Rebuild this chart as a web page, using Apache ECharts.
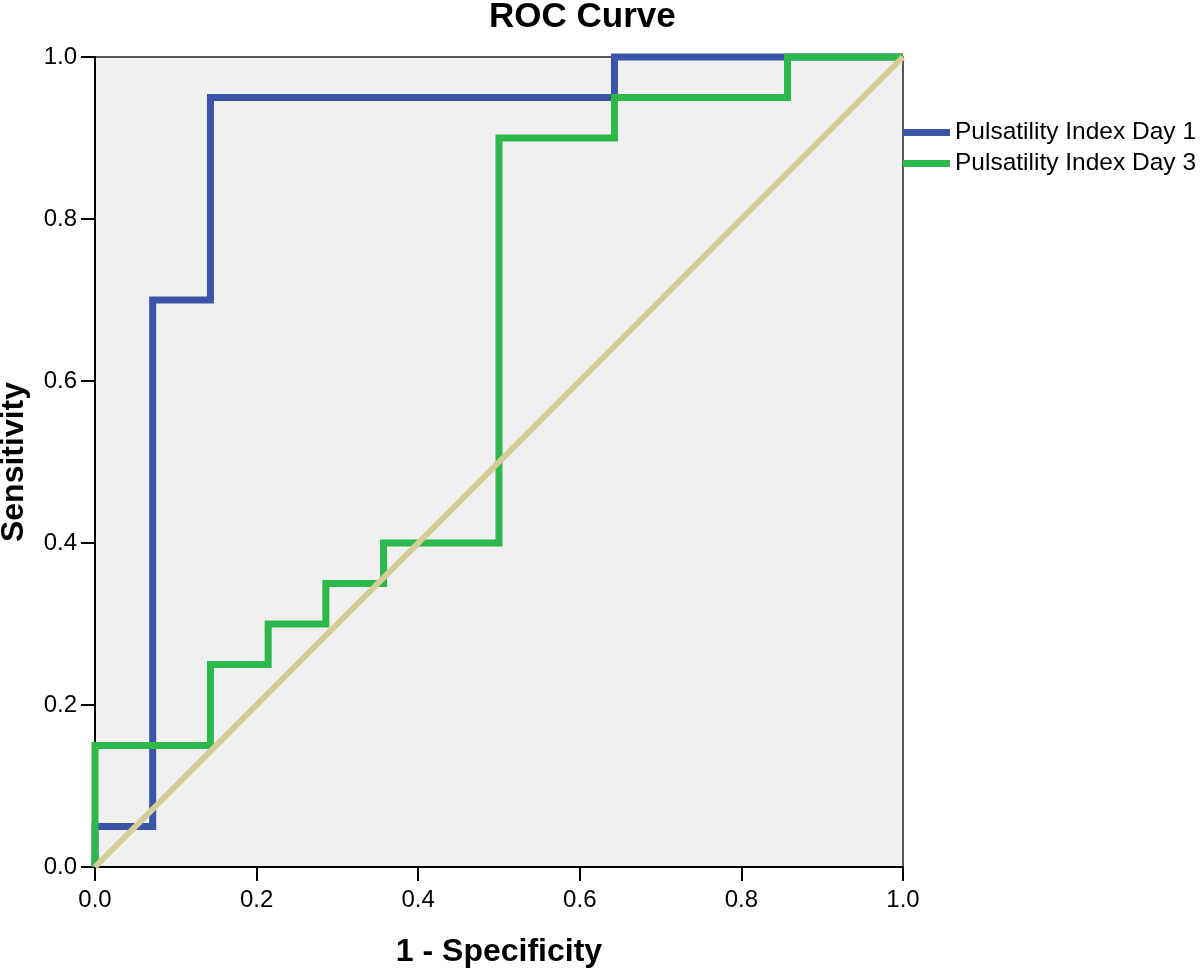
<!DOCTYPE html>
<html>
<head>
<meta charset="utf-8">
<script src="https://cdn.jsdelivr.net/npm/echarts@6/dist/echarts.min.js"></script>
<style>
  html, body { margin: 0; padding: 0; background: #ffffff; }
  #chart { width: 1200px; height: 976px; }
</style>
</head>
<body>
<div id="chart"></div>
<script>
// ROC points (1 - Specificity, Sensitivity) as drawn by the step curve
const day1Fpr = [0, 0, 0.0714, 0.0714, 0.1429, 0.1429, 0.6429, 0.6429, 1.0];
const day1Tpr = [0, 0.05, 0.05, 0.70, 0.70, 0.95, 0.95, 1.0, 1.0];

const day3Fpr = [0, 0, 0.1429, 0.1429, 0.2143, 0.2143, 0.2857, 0.2857, 0.3571, 0.3571, 0.5, 0.5, 0.6429, 0.6429, 0.8571, 0.8571, 1.0];
const day3Tpr = [0, 0.15, 0.15, 0.25, 0.25, 0.30, 0.30, 0.35, 0.35, 0.40, 0.40, 0.90, 0.90, 0.95, 0.95, 1.0, 1.0];

const refFpr = [0, 1];
const refTpr = [0, 1];

const seriesNames = ['Pulsatility Index Day 1', 'Pulsatility Index Day 3'];
const axisTicks = [0, 0.2, 0.4, 0.6, 0.8, 1.0];

function zip(xs, ys) { return xs.map((x, i) => [x, ys[i]]); }

const FONT = '"Liberation Sans", Arial, sans-serif';
const chart = echarts.init(document.getElementById('chart'), null, { renderer: 'canvas' });

chart.setOption({
  animation: false,
  backgroundColor: '#ffffff',
  title: {
    text: 'ROC Curve',
    left: 489,
    top: 0,
    padding: 0,
    textStyle: { fontFamily: FONT, fontSize: 35, fontWeight: 'bold', color: '#000' }
  },
  legend: {
    orient: 'vertical',
    left: 903,
    top: 120,
    padding: 0,
    itemGap: 6,
    itemWidth: 47,
    itemHeight: 7,
    icon: 'rect',
    data: seriesNames,
    textStyle: { fontFamily: FONT, fontSize: 24.5, color: '#000', lineHeight: 24 }
  },
  grid: {
    left: 95,
    top: 57,
    width: 808,
    height: 810,
    containLabel: false,
    outerBoundsMode: 'none',
    show: true,
    backgroundColor: '#F0F0F0',
    borderColor: '#222',
    borderWidth: 1.5
  },
  xAxis: {
    type: 'value',
    min: 0, max: 1, interval: 0.2,
    name: '1 - Specificity',
    nameLocation: 'middle',
    nameGap: 69,
    nameTextStyle: { fontFamily: FONT, fontSize: 32, fontWeight: 'bold', color: '#000' },
    axisLine: { show: true, onZero: false, lineStyle: { color: '#000', width: 2 } },
    axisTick: { show: true, length: 14, lineStyle: { color: '#000', width: 2 } },
    axisLabel: {
      fontFamily: FONT, fontSize: 24, color: '#000', margin: 21,
      formatter: v => axisTicks.some(t => Math.abs(t - v) < 1e-9) ? v.toFixed(1) : ''
    },
    splitLine: { show: false }
  },
  yAxis: {
    type: 'value',
    min: 0, max: 1, interval: 0.2,
    name: 'Sensitivity',
    nameLocation: 'middle',
    nameGap: 65,
    nameTextStyle: { fontFamily: FONT, fontSize: 32, fontWeight: 'bold', color: '#000' },
    axisLine: { show: true, onZero: false, lineStyle: { color: '#000', width: 2 } },
    axisTick: { show: true, length: 14, lineStyle: { color: '#000', width: 2 } },
    axisLabel: {
      fontFamily: FONT, fontSize: 24, color: '#000', margin: 18,
      formatter: v => axisTicks.some(t => Math.abs(t - v) < 1e-9) ? v.toFixed(1) : ''
    },
    splitLine: { show: false }
  },
  series: [
    {
      name: seriesNames[0],
      type: 'line',
      data: zip(day1Fpr, day1Tpr),
      showSymbol: false,
      symbol: 'none',
      clip: false,
      color: '#3A55A8',
      lineStyle: { color: '#3A55A8', width: 7, join: 'miter', cap: 'butt' },
      z: 3
    },
    {
      name: seriesNames[1],
      type: 'line',
      data: zip(day3Fpr, day3Tpr),
      showSymbol: false,
      symbol: 'none',
      clip: false,
      color: '#2DB84C',
      lineStyle: { color: '#2DB84C', width: 7, join: 'miter', cap: 'butt' },
      z: 4
    },
    {
      name: 'Reference Line',
      type: 'line',
      data: zip(refFpr, refTpr),
      showSymbol: false,
      symbol: 'none',
      clip: false,
      color: '#D5CD98',
      lineStyle: { color: '#D5CD98', width: 6 },
      z: 5
    }
  ]
});
</script>
</body>
</html>
